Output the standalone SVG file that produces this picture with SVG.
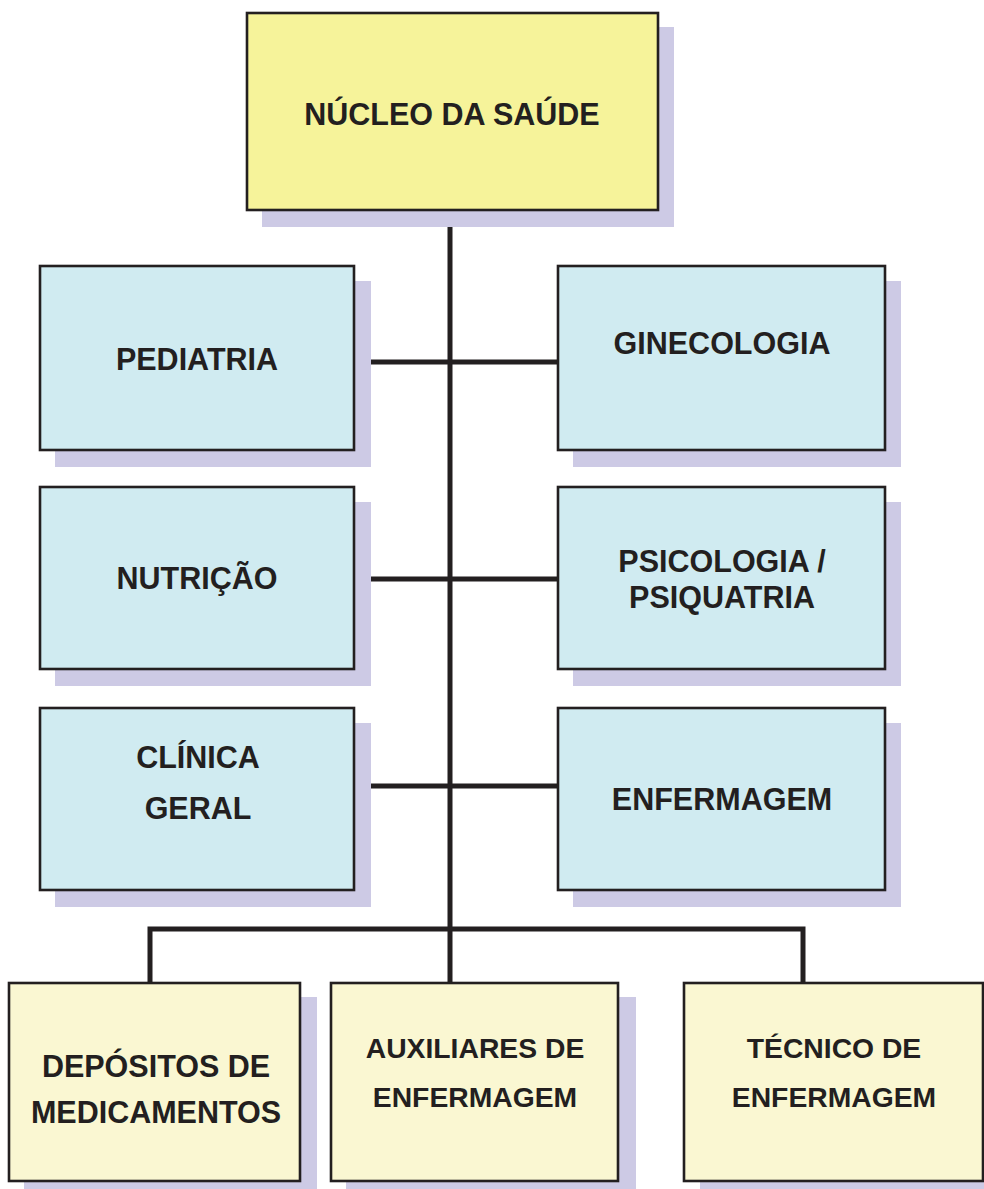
<svg xmlns="http://www.w3.org/2000/svg" width="984" height="1189" viewBox="0 0 984 1189">
<style>
.sh{fill:#CDCAE5}
.box{stroke:#231F20;stroke-width:2.6}
.y1{fill:#F6F39A}
.y2{fill:#FAF7D2}
.b{fill:#D0EBF1}
.t{font-family:"Liberation Sans",Arial,sans-serif;font-weight:bold;font-size:30.5px;fill:#231F20;text-anchor:middle}
.ts{font-size:28.3px}
.c{stroke:#231F20;stroke-width:5;fill:none}
</style>
<rect width="984" height="1189" fill="#FFFFFF"/>
<g id="connectors">
<line class="c" x1="450" y1="227" x2="450" y2="983"/>
<line class="c" x1="370" y1="362" x2="558" y2="362"/>
<line class="c" x1="370" y1="579" x2="558" y2="579"/>
<line class="c" x1="370" y1="786" x2="558" y2="786"/>
<polyline class="c" points="150,983 150,929 803,929 803,983"/>
</g>
<g id="nucleo">
<rect class="sh" x="262" y="27" width="412" height="200"/>
<rect class="box y1" x="247" y="13" width="411" height="197"/>
<text class="t" x="452" y="125">NÚCLEO DA SAÚDE</text>
</g>
<g id="pediatria">
<rect class="sh" x="55" y="281" width="316" height="186"/>
<rect class="box b" x="40" y="266" width="314" height="184"/>
<text class="t" x="197" y="370">PEDIATRIA</text>
</g>
<g id="ginecologia">
<rect class="sh" x="573" y="281" width="328" height="186"/>
<rect class="box b" x="558" y="266" width="327" height="184"/>
<text class="t" x="722" y="354">GINECOLOGIA</text>
</g>
<g id="nutricao">
<rect class="sh" x="55" y="502" width="316" height="184"/>
<rect class="box b" x="40" y="487" width="314" height="182"/>
<text class="t" x="197" y="589">NUTRIÇÃO</text>
</g>
<g id="psicologia">
<rect class="sh" x="573" y="502" width="328" height="184"/>
<rect class="box b" x="558" y="487" width="327" height="182"/>
<text class="t" x="722" y="572">PSICOLOGIA /</text>
<text class="t" x="722" y="608">PSIQUATRIA</text>
</g>
<g id="clinica">
<rect class="sh" x="55" y="723" width="316" height="184"/>
<rect class="box b" x="40" y="708" width="314" height="182"/>
<text class="t" x="198" y="768">CLÍNICA</text>
<text class="t" x="198" y="819">GERAL</text>
</g>
<g id="enfermagem">
<rect class="sh" x="573" y="723" width="328" height="184"/>
<rect class="box b" x="558" y="708" width="327" height="182"/>
<text class="t" x="722" y="810">ENFERMAGEM</text>
</g>
<g id="depositos">
<rect class="sh" x="24" y="997" width="293" height="192"/>
<rect class="box y2" x="9" y="983" width="291" height="198"/>
<text class="t" x="156" y="1077">DEPÓSITOS DE</text>
<text class="t" x="156" y="1123">MEDICAMENTOS</text>
</g>
<g id="auxiliares">
<rect class="sh" x="346" y="997" width="290" height="192"/>
<rect class="box y2" x="331" y="983" width="287" height="198"/>
<text class="t ts" x="475" y="1058">AUXILIARES DE</text>
<text class="t ts" x="475" y="1107">ENFERMAGEM</text>
</g>
<g id="tecnico">
<rect class="sh" x="700" y="997" width="284" height="192"/>
<rect class="box y2" x="684" y="983" width="299" height="198"/>
<text class="t ts" x="834" y="1058">TÉCNICO DE</text>
<text class="t ts" x="834" y="1107">ENFERMAGEM</text>
</g>
</svg>
